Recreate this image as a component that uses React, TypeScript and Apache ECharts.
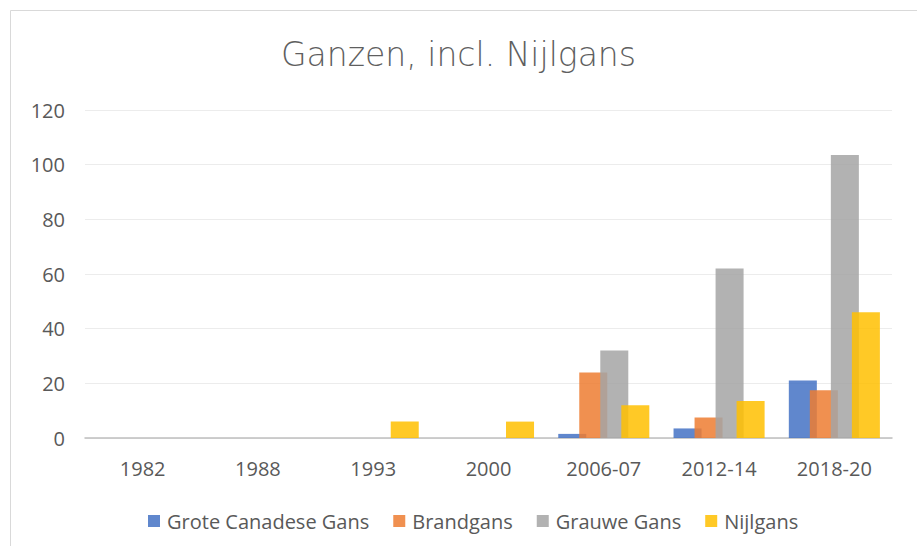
import React, { useEffect, useRef } from "react";
import * as echarts from "echarts";

const categories = ["1982", "1988", "1993", "2000", "2006-07", "2012-14", "2018-20"];
const groteCanadeseGans = [0, 0, 0, 0, 1.5, 3.5, 21];
const brandgans = [0, 0, 0, 0, 24, 7.5, 17.5];
const grauweGans = [0, 0, 0, 0, 32, 62, 103.5];
const nijlgans = [0, 0, 6, 6, 12, 13.5, 46];
const yTicks = [0, 20, 40, 60, 80, 100, 120];

const FONT = "'Open Sans', sans-serif";
const TXT = "#595959";

export default function App() {
  const ref = useRef<HTMLDivElement>(null);
  useEffect(() => {
    const chart = echarts.init(ref.current!, null, { renderer: "svg" });
    const mk = (name: string, data: number[], color: string) => ({
      name,
      type: "bar",
      data,
      barGap: "-25%",
      barCategoryGap: "21%",
      itemStyle: { color, opacity: 0.85 },
    });
    chart.setOption({
      animation: false,
      backgroundColor: "#ffffff",
      textStyle: { fontFamily: FONT },
      title: {
        text: "Ganzen, incl. Nijlgans",
        left: "center",
        top: 33,
        textStyle: {
          fontFamily: "'DejaVu Sans', sans-serif",
          fontSize: 33,
          fontWeight: 200,
          color: "#5f5f5f",
        },
      },
      graphic: [
        {
          type: "rect",
          shape: { x: 10.5, y: 10.5, width: 920, height: 560 },
          style: { fill: "none", stroke: "#d9d9d9", lineWidth: 1 },
          silent: true,
        },
      ],
      legend: {
        top: 506,
        left: 143,
        itemWidth: 12,
        itemHeight: 12,
        itemGap: 24,
        icon: "rect",
        textStyle: { fontFamily: FONT, fontSize: 20, color: TXT, padding: [0, 0, 0, 2] },
        data: ["Grote Canadese Gans", "Brandgans", "Grauwe Gans", "Nijlgans"],
      },
      grid: { left: 85, right: 25, top: 110, bottom: 108 },
      xAxis: {
        type: "category",
        data: categories,
        axisTick: { show: false },
        axisLine: { lineStyle: { color: "#bfbfbf", width: 1.5 } },
        axisLabel: { fontFamily: FONT, fontSize: 20, color: TXT, margin: 20 },
      },
      yAxis: {
        type: "value",
        min: yTicks[0],
        max: yTicks[yTicks.length - 1],
        interval: 20,
        axisLine: { show: false },
        axisTick: { show: false },
        splitLine: { lineStyle: { color: "#ececec" } },
        axisLabel: { fontFamily: FONT, fontSize: 20, color: TXT, margin: 20 },
      },
      series: [
        mk("Grote Canadese Gans", groteCanadeseGans, "#4472C4"),
        mk("Brandgans", brandgans, "#ED7D31"),
        mk("Grauwe Gans", grauweGans, "#A5A5A5"),
        mk("Nijlgans", nijlgans, "#FFC000"),
      ],
    });
    return () => chart.dispose();
  }, []);
  return (
    <div
      ref={ref}
      style={{ position: "fixed", left: 0, top: 0, width: 917, height: 546 }}
    />
  );
}
